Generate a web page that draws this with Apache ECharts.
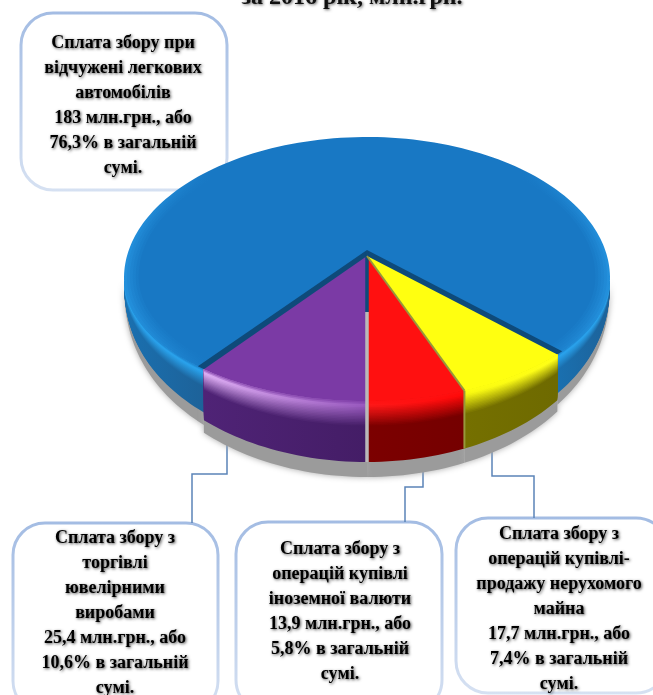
<!DOCTYPE html>
<html>
<head>
<meta charset="utf-8">
<style>
html, body { margin: 0; padding: 0; background: #fff; overflow: hidden; }
#chart { width: 653px; height: 695px; }
</style>
<script src="https://cdn.jsdelivr.net/npm/echarts@6/dist/echarts.min.js"></script>
</head>
<body>
<div id="chart"></div>
<script>
// дані: йдемо від "6 години" проти стрілки
var titleText = 'за 2016 рік, млн.грн.';
var amounts = [13.9, 17.7, 183, 25.4];
var shares = ['5,8', '7,4', '76,3', '10,6'];
var amountLabels = ['13,9', '17,7', '183', '25,4'];
var nameLines = [
  ['Сплата збору з', 'операцій купівлі', 'іноземної валюти'],
  ['Сплата збору з', 'операцій купівлі-', 'продажу нерухомого', 'майна'],
  ['Сплата збору при', 'відчужені легкових', 'автомобілів'],
  ['Сплата збору з', 'торгівлі', 'ювелірними', 'виробами']
];

// вигляд секторів
var sliceStyles = [
  { face: '#ff1010', edge: '#ff1010', hlL: '#ff1818', hlR: '#ff0808', wallL: '#7c0000', wallR: '#750000', wallScale: 1 },
  { face: '#ffff10', edge: '#ffff10', hlL: '#f8f810', hlR: '#ffff18', wallL: '#757000', wallR: '#6e6a00', wallScale: 1 },
  { face: '#1878c4', edge: '#2390dc', hlL: '#2aa4ee', hlR: '#2aa4ee', wallL: '#1a70b0', wallR: '#1d6299', wallScale: 0.85 },
  { face: '#7b3aa5', edge: '#7b3aa5', hlL: '#e3b4f8', hlR: '#9a5ac0', wallL: '#4f2376', wallR: '#441d66', wallScale: 1 }
];
var cx = 367, cy = 278, rx = 243, ryBack = 141, ryFront = 123, wallDepth = 61;
var apexY = 256, warp = 0.073, shadowExtra = 15;

var total = amounts.reduce(function (a, b) { return a + b; }, 0);

function phi(deg) {
  var t = deg * Math.PI / 180;
  return t + warp * Math.sin(2 * t);
}
function rimPoint(deg, k, scale) {
  var p = phi(deg), c = Math.cos(p);
  var ry = c > 0 ? ryFront : ryBack;
  var x = cx + rx * Math.sin(p);
  var y = cy + ry * c;
  if (scale != null) {
    x = cx + (x - cx) * scale;
    y = apexY + (y - apexY) * scale;
  }
  if (k) y += k * wallDepth * Math.pow(Math.max(c, 0), 0.6);
  return [x, y];
}
function arc(from, to, k, scale) {
  var pts = [], n = Math.max(2, Math.ceil(Math.abs(to - from) / 1.5));
  for (var i = 0; i <= n; i++) pts.push(rimPoint(from + (to - from) * i / n, k, scale));
  return pts;
}
function hex(c) { return [parseInt(c.substr(1, 2), 16), parseInt(c.substr(3, 2), 16), parseInt(c.substr(5, 2), 16)]; }
function mix(a, b, t) {
  var x = hex(a), y = hex(b);
  return 'rgb(' + [0, 1, 2].map(function (i) { return Math.round(x[i] + (y[i] - x[i]) * t); }).join(',') + ')';
}
function ramp(t, face, hl, wall) {
  if (t < 0.08) return mix(face, hl, t / 0.08);
  if (t < 0.42) return mix(hl, wall, (t - 0.08) / 0.34);
  return mix(wall, wall, 0);
}
function wallPieces(a, b) {
  var res = [];
  [[-90, 90], [270, 450]].forEach(function (r) {
    var from = Math.max(a, r[0]), to = Math.min(b, r[1]);
    if (to > from) res.push([from, to]);
  });
  return res;
}

function renderSlice(params, api) {
  var i = params.dataIndex, st = sliceStyles[i];
  var start = 0;
  for (var j = 0; j < i; j++) start += amounts[j];
  var a = start / total * 360, b = a + api.value(0) / total * 360;
  var isBack = i === 2;
  var order = isBack ? 0 : 100 + i * 60;
  var kids = [];
  function poly(points, fill, extra) {
    var el = { type: 'polygon', shape: { points: points }, style: { fill: fill }, z2: order++, silent: true };
    if (extra) for (var k in extra) el.style[k] = extra[k];
    kids.push(el);
  }

  wallPieces(a, b).forEach(function (pc) {
    var top = arc(pc[0], pc[1], 0);
    // тінь під сектором
    poly(top.concat(arc(pc[1], pc[0], st.wallScale + shadowExtra / wallDepth)), '#9b9b9b', { shadowBlur: 6, shadowColor: '#a8a8a8' });
    kids[kids.length - 1].z2 = -10;
    var x0 = Math.min(rimPoint(pc[0])[0], rimPoint(pc[1])[0]);
    var x1 = Math.max(rimPoint(pc[0])[0], rimPoint(pc[1])[0]);
    // стінка шарами згори вниз, щоб без швів
    for (var s = 40; s >= 1; s--) {
      var t = s / 40;
      poly(top.concat(arc(pc[1], pc[0], t * st.wallScale)), {
        type: 'linear', x: x0, y: 0, x2: x1, y2: 0, global: true,
        colorStops: [
          { offset: 0, color: ramp(t, st.face, st.hlL, st.wallL) },
          { offset: 1, color: ramp(t, st.face, st.hlR, st.wallR) }
        ]
      });
    }
  });

  // верхня грань
  var rings = isBack ? 6 : 1;
  for (var r = 0; r < rings; r++) {
    var sc = 1 - r * 0.012;
    var side = rings > 1 ? mix(st.edge, st.face, r / (rings - 1)) : st.face;
    poly([[cx, apexY]].concat(arc(a, b, 0, sc)), {
      type: 'linear', x: cx - rx, y: 0, x2: cx + rx, y2: 0, global: true,
      colorStops: [
        { offset: 0, color: side }, { offset: 0.18, color: st.face },
        { offset: 0.82, color: st.face }, { offset: 1, color: side }
      ]
    });
  }
  if (isBack) {
    // темний клин під передніми секторами
    poly([[cx, apexY - 6]].concat(arc(b - 360 - 1.9, a + 1.9, 0)), '#0e4a7a');
  }
  if (i === 0) {
    var bot = rimPoint(0, 1);
    kids.push(
      { type: 'line', shape: { x1: cx, y1: apexY - 4, x2: cx, y2: 312 }, style: { stroke: '#0e4a7a', lineWidth: 3.5 }, z2: 500, silent: true },
      { type: 'line', shape: { x1: cx, y1: 312, x2: bot[0], y2: bot[1] }, style: { stroke: '#b9b9b9', lineWidth: 3.5 }, z2: 500, silent: true }
    );
  }
  if (i === 1) {
    var r1 = rimPoint(a), b1 = rimPoint(a, 1);
    kids.push(
      { type: 'line', shape: { x1: cx, y1: apexY, x2: r1[0], y2: r1[1] }, style: { stroke: '#97973c', lineWidth: 2 }, z2: 500, silent: true },
      { type: 'line', shape: { x1: r1[0], y1: r1[1], x2: b1[0], y2: b1[1] }, style: { stroke: '#97973c', lineWidth: 2 }, z2: 500, silent: true }
    );
  }
  return { type: 'group', children: kids };
}

var boxFont = 'bold 18px "Liberation Serif", serif';
function boxText(i) {
  return nameLines[i].concat([amountLabels[i] + ' млн.грн., або', shares[i] + '% в загальній', 'сумі.']).join('\n');
}
function box(x, y, w, h, i, tx, ty) {
  return [
    {
      type: 'rect', z: 0, silent: true,
      shape: { x: x, y: y, width: w, height: h, r: 32 },
      style: {
        fill: '#fff', lineWidth: 3,
        stroke: { type: 'linear', x: 0, y: 0, x2: 0, y2: 1, colorStops: [{ offset: 0, color: '#a3bce3' }, { offset: 1, color: '#d6e1f2' }] }
      }
    },
    {
      type: 'text', z: 6, silent: true,
      style: {
        x: tx, y: ty, text: boxText(i), font: boxFont, fill: '#000', lineHeight: 25,
        align: 'center', verticalAlign: 'top',
        textShadowColor: 'rgba(0,0,0,0.7)', textShadowBlur: 3, textShadowOffsetX: 1, textShadowOffsetY: 1
      }
    }
  ];
}
function leader(points) {
  return { type: 'polyline', z: 1, silent: true, shape: { points: points }, style: { stroke: '#5b84b8', lineWidth: 1.5, fill: null } };
}

var chart = echarts.init(document.getElementById('chart'));
chart.setOption({
  animation: false,
  backgroundColor: '#fff',
  title: {
    text: titleText, left: 347, top: -19, textAlign: 'center',
    textStyle: {
      fontFamily: 'Liberation Serif', fontWeight: 'bold', fontSize: 24, color: '#111',
      textShadowColor: 'rgba(0,0,0,0.6)', textShadowBlur: 3, textShadowOffsetX: 1, textShadowOffsetY: 1
    }
  },
  graphic: [].concat(
    box(21, 13, 206, 177, 2, 123, 31),
    box(13, 523, 205, 190, 3, 115, 526),
    box(236, 522, 206, 190, 0, 340, 537),
    box(456, 518, 212, 175, 1, 559, 522),
    [
      leader([[227, 438], [227, 474], [192, 474], [192, 523]]),
      leader([[423, 460], [423, 487], [405, 487], [405, 522]]),
      leader([[492, 445], [492, 476], [534, 476], [534, 518]])
    ]
  ),
  series: [{
    type: 'custom',
    coordinateSystem: 'none',
    z: 3,
    data: amounts,
    renderItem: renderSlice
  }]
});
</script>
</body>
</html>
